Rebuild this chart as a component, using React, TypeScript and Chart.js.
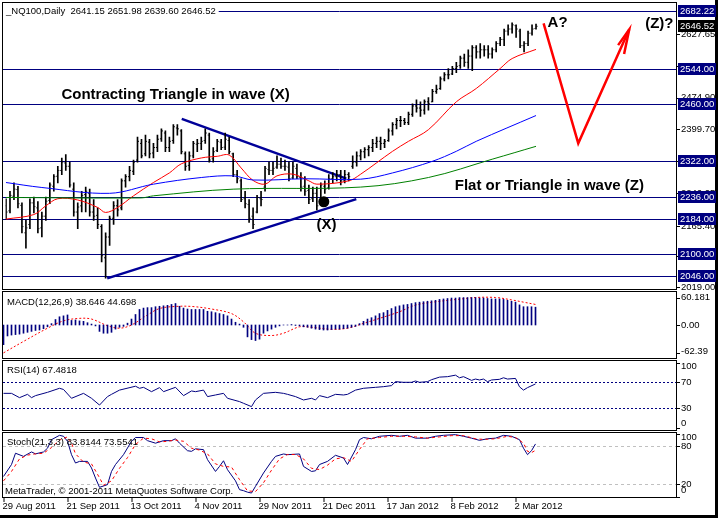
import { useEffect, useRef } from "react";
import { Chart, registerables } from "chart.js";

Chart.register(...registerables);

// ---------------- data ----------------
const opens = [
  2215, 2203, 2238, 2254, 2216, 2150, 2170, 2222, 2210, 2162,
  2190, 2228, 2262, 2286, 2300, 2318, 2310, 2255, 2200, 2215,
  2242, 2245, 2200, 2192, 2165, 2090, 2140, 2185, 2215, 2210,
  2275, 2285, 2298, 2325, 2365, 2340, 2368, 2342, 2355, 2376,
  2390, 2355, 2372, 2402, 2395, 2340, 2312, 2335, 2363, 2365,
  2372, 2385, 2328, 2348, 2368, 2356, 2372, 2340, 2290, 2275,
  2232, 2218, 2190, 2200, 2232, 2260, 2302, 2300, 2308, 2315,
  2310, 2308, 2282, 2305, 2283, 2262, 2252, 2232, 2245, 2225,
  2262, 2258, 2280, 2285, 2290, 2275, 2290, 2310, 2320, 2335,
  2345, 2350, 2355, 2365, 2370, 2365, 2372, 2395, 2410, 2420,
  2420, 2415, 2435, 2455, 2450, 2445, 2465, 2465, 2490, 2497,
  2520, 2530, 2532, 2545, 2552, 2570, 2560, 2575, 2595, 2585,
  2590, 2590, 2580, 2590, 2605, 2615, 2635, 2640, 2648, 2635,
  2600, 2605, 2630, 2641.15,
];
const highs = [
  2232, 2250, 2270, 2262, 2222, 2180, 2232, 2236, 2225, 2200,
  2236, 2270, 2290, 2310, 2330, 2338, 2320, 2270, 2222, 2250,
  2260, 2255, 2230, 2210, 2170, 2150, 2190, 2225, 2230, 2280,
  2290, 2310, 2325, 2380, 2375, 2385, 2375, 2365, 2385, 2400,
  2395, 2380, 2410, 2410, 2398, 2345, 2345, 2370, 2375, 2380,
  2400, 2390, 2355, 2375, 2375, 2390, 2380, 2342, 2300, 2280,
  2250, 2230, 2210, 2240, 2250, 2310, 2320, 2320, 2335, 2330,
  2325, 2320, 2320, 2315, 2295, 2285, 2265, 2260, 2260, 2270,
  2275, 2290, 2295, 2300, 2300, 2300, 2295, 2335, 2345, 2350,
  2355, 2360, 2375, 2380, 2380, 2375, 2400, 2415, 2425, 2430,
  2425, 2440, 2460, 2470, 2465, 2470, 2475, 2495, 2505, 2525,
  2535, 2545, 2550, 2560, 2575, 2580, 2590, 2600, 2600, 2605,
  2600, 2600, 2595, 2610, 2620, 2640, 2650, 2655, 2650, 2640,
  2610, 2635, 2650, 2651.98,
];
const lows = [
  2182, 2198, 2230, 2210, 2150, 2113, 2160, 2198, 2150, 2140,
  2180, 2220, 2250, 2270, 2290, 2300, 2260, 2190, 2160, 2200,
  2200, 2190, 2180, 2160, 2080, 2041, 2120, 2170, 2190, 2205,
  2260, 2275, 2290, 2320, 2330, 2335, 2330, 2330, 2345, 2370,
  2345, 2345, 2365, 2385, 2340, 2300, 2300, 2330, 2345, 2350,
  2365, 2320, 2320, 2345, 2350, 2350, 2340, 2285, 2270, 2225,
  2210, 2175, 2160, 2198, 2215, 2250, 2290, 2290, 2305, 2305,
  2300, 2275, 2280, 2280, 2250, 2240, 2220, 2225, 2205, 2220,
  2245, 2255, 2270, 2275, 2265, 2270, 2275, 2305, 2310, 2325,
  2330, 2335, 2345, 2355, 2350, 2355, 2370, 2385, 2400, 2405,
  2410, 2410, 2430, 2440, 2430, 2435, 2445, 2465, 2485, 2495,
  2515, 2520, 2530, 2535, 2545, 2550, 2545, 2540, 2570, 2570,
  2575, 2570, 2570, 2585, 2600, 2600, 2625, 2630, 2620, 2595,
  2585, 2600, 2625, 2639.6,
];
const closes = [
  2200, 2240, 2255, 2220, 2165, 2162, 2222, 2213, 2160, 2190,
  2226, 2265, 2285, 2300, 2320, 2310, 2265, 2200, 2212, 2240,
  2250, 2200, 2190, 2170, 2095, 2140, 2185, 2215, 2205, 2275,
  2285, 2300, 2320, 2370, 2335, 2370, 2340, 2355, 2375, 2395,
  2355, 2370, 2405, 2400, 2345, 2310, 2335, 2365, 2365, 2370,
  2390, 2325, 2345, 2370, 2355, 2375, 2345, 2290, 2280, 2230,
  2220, 2185, 2170, 2235, 2230, 2305, 2300, 2305, 2315, 2310,
  2310, 2280, 2310, 2285, 2260, 2250, 2230, 2245, 2215, 2265,
  2255, 2280, 2285, 2290, 2275, 2290, 2285, 2320, 2335, 2345,
  2350, 2355, 2365, 2370, 2365, 2370, 2395, 2410, 2420, 2420,
  2415, 2435, 2455, 2450, 2445, 2465, 2460, 2490, 2495, 2520,
  2530, 2530, 2545, 2550, 2570, 2560, 2575, 2595, 2585, 2590,
  2590, 2580, 2590, 2605, 2615, 2635, 2640, 2650, 2640, 2600,
  2605, 2630, 2640, 2646.52,
];

const dateLabels = [
  "29 Aug 2011", "21 Sep 2011", "13 Oct 2011", "4 Nov 2011", "29 Nov 2011",
  "21 Dec 2011", "17 Jan 2012", "8 Feb 2012", "2 Mar 2012",
];
const dateLabelBars = [0, 16, 32, 48, 64, 80, 96, 112, 128];

const levelLines = [2682.22, 2544, 2460, 2322, 2236, 2184, 2100, 2046];
const priceAxisLabels = [2627.65, 2550.45, 2474.9, 2399.7, 2323.2, 2246.05, 2165.4, 2093.2, 2019.0];
const lastPrice = 2646.52;
const titleText = "_NQ100,Daily  2641.15 2651.98 2639.60 2646.52";

const maRedBars = [0, 7, 10, 13, 18, 23, 25, 28, 32, 37, 41, 44, 49, 53, 56, 59, 62, 65, 68, 72, 76, 78, 86, 89, 97, 101, 106, 113, 118, 124, 127, 133];
const maRedValues = [2183, 2194, 2215, 2232, 2229, 2211, 2199, 2211, 2239, 2271, 2294, 2316, 2330, 2334, 2337, 2306, 2276, 2267, 2287, 2291, 2275, 2267, 2275, 2291, 2346, 2370, 2398, 2465, 2497, 2545, 2569, 2591];
const maBlueBars = [0, 9, 26, 37, 49, 57, 62, 75, 89, 97, 107, 113, 118, 133];
const maBlueValues = [2271, 2259, 2245, 2267, 2283, 2287, 2277, 2280, 2279, 2294, 2322, 2346, 2370, 2432];
const maGreenBars = [0, 34, 37, 57, 89, 106, 122, 133];
const maGreenValues = [2235, 2234, 2239, 2255, 2260, 2283, 2327, 2358];

const triUpperBars = [44.1, 85.4];
const triUpperPrices = [2424.1, 2280.2];
const triLowerBars = [25.4, 87.9];
const triLowerPrices = [2040.5, 2231.1];
const arrowBars = [134.9, 143.6, 156.4];
const arrowPrices = [2653.6, 2365.3, 2639.3];
const arrowHeadBars = [153.6, 156.4, 155.1];
const arrowHeadPrices = [2601.2, 2639.3, 2579.7];
const waveDotBar = 79.75;
const waveDotPrice = 2224.7;
const waveTexts = ["Contracting Triangle in wave (X)", "Flat or Triangle in wave (Z)", "A?", "(Z)?", "(X)"];
const waveTextBars = [13.9, 112.6, 135.9, 160.4, 77.9];
const waveTextPrices = [2472.5, 2253.3, 2644.1, 2641.7, 2160.3];

const macdHist = [
  -43, -24, -22, -21, -20, -18, -16, -14, -12, -11,
  -8, -4, 3, 12, 18, 20, 22, 10, 11, 9,
  8, 5, 2, -2, -14, -18, -18, -16, -9, -5,
  -3, 4, 13, 23, 34, 37, 38, 38, 40, 41,
  42, 43, 45, 47, 41, 37, 35, 34, 34, 34,
  34, 30, 29, 27, 25, 23, 20, 13, 6, 2,
  -5, -26, -32, -34, -31, -18, -13, -9, -5, -2,
  0, 0, 1, -1, -2, -4, -5, -7, -9, -10,
  -11, -11, -10, -9, -9, -8, -7, -5, -3, 3,
  8, 13, 16, 20, 25, 27, 32, 36, 40, 42,
  44, 45, 47, 49, 50, 51, 52, 53, 54, 56,
  57, 58, 59, 59, 60, 60, 60, 60, 60, 59,
  59, 58, 57, 57, 57, 56, 54, 52, 50, 44,
  40, 40, 40, 39,
];
const macdSignalBars = [0, 5, 11, 15, 19, 22, 26, 29, 32, 36, 39, 43, 47, 52, 57, 60, 63, 67, 70, 74, 77, 82, 86, 90, 94, 99, 103, 108, 114, 118, 123, 127, 130, 133];
const macdSignalValues = [-61, -36, -7, 9, 14.5, 13, -1.5, -7, 0, 22, 36, 40.6, 40.6, 35, 25, 7, -18, -23, -18, -4, -5, -9.4, -7, 3.6, 14.5, 29, 43.5, 50.8, 56.6, 60.2, 60.2, 55, 50, 45];

const rsiBars = [0, 2, 4, 6, 7, 8, 11, 14, 15, 17, 20, 22, 24, 26, 27, 29, 33, 34, 35, 37, 39, 40, 43, 45, 47, 48, 50, 51, 53, 55, 56, 59, 60, 62, 63, 65, 68, 70, 71, 73, 75, 77, 78, 79, 81, 83, 85, 86, 88, 90, 93, 95, 97, 98, 100, 102, 103, 104, 106, 107, 109, 111, 113, 114, 115, 117, 118, 119, 120, 121, 122, 124, 125, 126, 128, 129, 130, 131, 133];
const rsiValues = [53, 53, 46.4, 51.5, 46.4, 49.5, 54.6, 60.8, 59, 45.4, 53, 45.4, 35, 48, 51.5, 58, 64, 60.8, 62.3, 55.6, 61.8, 55.6, 62.3, 49.5, 56.7, 55.6, 58, 48, 50.5, 53, 45.4, 40.3, 37.7, 32.6, 42.8, 53, 54.6, 53, 51.5, 48, 42.8, 45.4, 42.8, 49.5, 46.4, 51.5, 50.5, 51.5, 58, 60.8, 62.3, 63.3, 64.9, 71, 70, 70, 72, 70, 71, 74, 78, 78.7, 81, 77, 78.7, 73, 75, 73.6, 75, 71, 73.6, 74.6, 77, 75, 76, 63, 58, 61.8, 67.5];

const stochBars = [0, 2, 3, 5, 7, 8, 10, 11, 12, 14, 15, 16, 17, 18, 19, 21, 22, 23, 24, 26, 27, 28, 30, 32, 33, 35, 36, 38, 40, 42, 43, 44, 46, 47, 48, 50, 51, 53, 54, 55, 56, 58, 59, 60, 61, 62, 63, 65, 67, 68, 70, 71, 74, 75, 77, 78, 79, 81, 83, 85, 86, 88, 89, 90, 92, 94, 97, 99, 101, 103, 106, 108, 110, 113, 115, 117, 119, 121, 123, 125, 127, 129, 130, 131, 132, 133];
const stochMain = [32, 51, 69, 64, 71, 68, 71, 77, 90.6, 97.5, 96, 88, 66.7, 53.4, 56, 56, 45.5, 29.5, 14.7, 19, 40, 51, 66.7, 88, 94, 94, 89, 85, 89, 89, 92, 85, 73, 72, 76, 74.7, 58.8, 40, 48, 57, 42.8, 25, 11, 9.4, 7, 5.6, 16.3, 37.5, 56, 64, 67.8, 66.7, 67.8, 48, 40, 41, 51, 56, 65.7, 61.4, 51, 74.7, 90.6, 94, 92, 96, 97.5, 96, 97.5, 93, 93, 96, 97.5, 98.6, 96, 93, 89.5, 92, 93, 97.5, 96, 90.6, 77, 66.7, 73, 83.8];
const stochSignalBars = [0, 2, 4, 6, 8, 10, 12, 14, 16, 17, 18, 20, 22, 24, 25, 27, 29, 31, 33, 35, 37, 39, 41, 43, 45, 47, 49, 51, 53, 55, 57, 59, 61, 63, 65, 67, 69, 71, 73, 75, 77, 79, 81, 83, 85, 87, 89, 91, 94, 97, 100, 103, 106, 109, 112, 115, 118, 120, 123, 126, 128, 130, 131, 132, 133];
const stochSignal = [25, 40, 60, 66, 68, 69, 78, 90, 95, 85, 68, 55, 52, 30, 18, 25, 45, 62, 83, 93, 92, 87, 88, 90, 88, 77, 74, 68, 52, 48, 47, 27, 9, 8, 22, 42, 60, 67, 67, 60, 45, 43, 50, 60, 62, 56, 75, 92, 94, 96, 96, 95, 93, 95, 97, 97, 92, 91, 92, 96, 94, 85, 72, 70, 73.6];

// ---------------- layout / style ----------------
const CW = 718;
const CH = 518;
const AREA_LEFT = 3;
const AREA_RIGHT = 676;
const X_MIN = -0.125;
const X_MAX = 168.125;
const FONT = '"Liberation Sans", Arial, sans-serif';
const SMALL = `9.5px ${FONT}`;
const NAVY = "#000080";

const PANEL_MAIN = { top: 3, bottom: 289, min: 2014.98, max: 2696.52 };
const PANEL_MACD = { top: 292, bottom: 358, min: -72.24, max: 72.22 };
const PANEL_RSI = { top: 361, bottom: 430, min: -3.4, max: 102.8 };
const PANEL_STOCH = { top: 433, bottom: 497, min: -0.7, max: 101.2 };

const pts = (xs: number[], ys: number[]) => xs.map((x, i) => ({ x, y: ys[i] }));

function baseOptions(p: any) {
  return {
    responsive: false,
    maintainAspectRatio: false,
    animation: false,
    devicePixelRatio: 1,
    events: [],
    layout: { padding: { left: AREA_LEFT, right: CW - AREA_RIGHT, top: p.top, bottom: CH - p.bottom } },
    scales: {
      x: { type: "linear", display: false, min: X_MIN, max: X_MAX, offset: false, grid: { display: false } },
      y: { type: "linear", display: false, min: p.min, max: p.max, grid: { display: false } },
    },
    plugins: { legend: { display: false }, tooltip: { enabled: false } },
  };
}

function frame(ctx: CanvasRenderingContext2D, p: any) {
  ctx.save();
  ctx.strokeStyle = "#000";
  ctx.lineWidth = 1;
  ctx.strokeRect(2.5, p.top - 0.5, AREA_RIGHT - 2, p.bottom - p.top + 1);
  ctx.restore();
}

function axisText(ctx: CanvasRenderingContext2D, text: string, py: number, p: any) {
  const y = Math.min(Math.max(py, p.top + 5), p.bottom - 7);
  ctx.save();
  ctx.strokeStyle = "#000";
  ctx.beginPath();
  ctx.moveTo(AREA_RIGHT + 1, Math.round(py) + 0.5);
  ctx.lineTo(AREA_RIGHT + 4, Math.round(py) + 0.5);
  ctx.stroke();
  ctx.fillStyle = "#000";
  ctx.font = SMALL;
  ctx.textBaseline = "middle";
  ctx.fillText(text, AREA_RIGHT + 5, y);
  ctx.restore();
}

function hLine(ctx: CanvasRenderingContext2D, py: number, color: string, dash: number[]) {
  const y = Math.round(py) + 0.5;
  ctx.save();
  ctx.strokeStyle = color;
  ctx.lineWidth = 1;
  ctx.setLineDash(dash);
  ctx.beginPath();
  ctx.moveTo(AREA_LEFT, y);
  ctx.lineTo(AREA_RIGHT, y);
  ctx.stroke();
  ctx.restore();
}

function panelLabel(ctx: CanvasRenderingContext2D, text: string, x: number, y: number) {
  ctx.save();
  ctx.fillStyle = "#000";
  ctx.font = SMALL;
  ctx.textBaseline = "middle";
  ctx.fillText(text, x, y);
  ctx.restore();
}

const mainDecor = {
  id: "mainDecor",
  beforeDatasetsDraw(chart: any) {
    const { ctx, scales } = chart;
    levelLines.forEach((v) => hLine(ctx, scales.y.getPixelForValue(v), NAVY, []));
  },
  afterDraw(chart: any) {
    const { ctx, scales } = chart;
    const y = scales.y;
    const x = scales.x;
    frame(ctx, PANEL_MAIN);
    priceAxisLabels.forEach((v) => axisText(ctx, v.toFixed(2), y.getPixelForValue(v), { top: -100, bottom: 1000 }));
    ctx.save();
    ctx.font = SMALL;
    ctx.textBaseline = "middle";
    levelLines.forEach((v) => {
      const py = Math.round(y.getPixelForValue(v));
      ctx.fillStyle = NAVY;
      ctx.fillRect(AREA_RIGHT + 2, py - 6, 38, 12);
      ctx.fillStyle = "#fff";
      ctx.fillText(v.toFixed(2), AREA_RIGHT + 4, py + 0.5);
    });
    const lp = Math.round(y.getPixelForValue(lastPrice));
    ctx.fillStyle = "#000";
    ctx.fillRect(AREA_RIGHT + 2, lp - 6, 38, 12);
    ctx.fillStyle = "#fff";
    ctx.fillText(lastPrice.toFixed(2), AREA_RIGHT + 4, lp + 0.5);
    // title
    const tw = ctx.measureText(titleText).width;
    ctx.fillStyle = "#fff";
    ctx.fillRect(AREA_LEFT, 4, tw + 6, 12);
    ctx.fillStyle = "#000";
    ctx.fillText(titleText, 6, 11);
    // wave annotations
    ctx.font = `bold 15px ${FONT}`;
    ctx.textBaseline = "alphabetic";
    waveTexts.forEach((t, i) => {
      ctx.fillText(t, x.getPixelForValue(waveTextBars[i]), y.getPixelForValue(waveTextPrices[i]));
    });
    ctx.restore();
  },
};

const macdDecor = {
  id: "macdDecor",
  afterDraw(chart: any) {
    const { ctx, scales } = chart;
    frame(ctx, PANEL_MACD);
    [60.181, 0, -62.39].forEach((v) => axisText(ctx, v === 0 ? "0.00" : String(v), scales.y.getPixelForValue(v), PANEL_MACD));
    panelLabel(ctx, "MACD(12,26,9) 38.646 44.698", 7, 302);
  },
};

const rsiDecor = {
  id: "rsiDecor",
  beforeDatasetsDraw(chart: any) {
    const { ctx, scales } = chart;
    [70, 30].forEach((v) => hLine(ctx, scales.y.getPixelForValue(v), NAVY, [2, 2]));
  },
  afterDraw(chart: any) {
    const { ctx, scales } = chart;
    frame(ctx, PANEL_RSI);
    [100, 70, 30, 0].forEach((v) => axisText(ctx, String(v), scales.y.getPixelForValue(v), PANEL_RSI));
    panelLabel(ctx, "RSI(14) 67.4818", 7, 370);
  },
};

const stochDecor = {
  id: "stochDecor",
  beforeDatasetsDraw(chart: any) {
    const { ctx, scales } = chart;
    [80, 20].forEach((v) => hLine(ctx, scales.y.getPixelForValue(v), "#C0C0C0", [3, 3]));
  },
  afterDraw(chart: any) {
    const { ctx, scales } = chart;
    frame(ctx, PANEL_STOCH);
    [100, 80, 20, 0].forEach((v) => axisText(ctx, String(v), scales.y.getPixelForValue(v), { top: PANEL_STOCH.top - 1, bottom: PANEL_STOCH.bottom }));
    panelLabel(ctx, "Stoch(21,3,3) 83.8144 73.5541", 7, 442);
    panelLabel(ctx, "MetaTrader, \u00a9 2001-2011 MetaQuotes Software Corp.", 5, 491);
    ctx.save();
    ctx.font = SMALL;
    ctx.textBaseline = "middle";
    ctx.fillStyle = "#000";
    ctx.strokeStyle = "#000";
    dateLabelBars.forEach((b, i) => {
      const px = Math.round(scales.x.getPixelForValue(b)) - 0.5;
      ctx.beginPath();
      ctx.moveTo(px + 0.5, PANEL_STOCH.bottom);
      ctx.lineTo(px + 0.5, PANEL_STOCH.bottom + 5);
      ctx.stroke();
      ctx.fillText(dateLabels[i], px - 1, 506);
    });
    ctx.restore();
  },
};

function mainConfig(): any {
  const idx = closes.map((_, i) => i);
  return {
    type: "bar",
    data: {
      datasets: [
        { type: "line", data: pts(maGreenBars, maGreenValues), borderColor: "#008000", borderWidth: 1, pointRadius: 0, tension: 0.35 },
        { type: "line", data: pts(maBlueBars, maBlueValues), borderColor: "#0000FF", borderWidth: 1, pointRadius: 0, tension: 0.35 },
        { type: "line", data: pts(maRedBars, maRedValues), borderColor: "#FF0000", borderWidth: 1, pointRadius: 0, tension: 0.35 },
        {
          type: "bar",
          data: idx.map((i) => ({ x: i, y: [lows[i], highs[i]] })),
          backgroundColor: "#000",
          borderWidth: 0,
          barThickness: 1,
          grouped: false,
        },
        {
          type: "scatter",
          data: idx.map((i) => ({ x: i - 0.25, y: opens[i] })),
          pointStyle: "line",
          pointRadius: 0.5,
          borderColor: "#000",
          borderWidth: 1,
        },
        {
          type: "scatter",
          data: idx.map((i) => ({ x: i + 0.25, y: closes[i] })),
          pointStyle: "line",
          pointRadius: 0.5,
          borderColor: "#000",
          borderWidth: 1,
        },
        { type: "line", data: pts(triUpperBars, triUpperPrices), borderColor: "#000099", borderWidth: 2.5, pointRadius: 0 },
        { type: "line", data: pts(triLowerBars, triLowerPrices), borderColor: "#000099", borderWidth: 2.5, pointRadius: 0 },
        { type: "line", data: pts(arrowBars, arrowPrices), borderColor: "#FF0000", borderWidth: 2.5, pointRadius: 0 },
        { type: "line", data: pts(arrowHeadBars, arrowHeadPrices), borderColor: "#FF0000", borderWidth: 2.5, pointRadius: 0 },
        {
          type: "scatter",
          data: [{ x: waveDotBar, y: waveDotPrice }],
          pointRadius: 5.5,
          backgroundColor: "#000",
          borderColor: "#000",
          borderWidth: 0,
        },
      ],
    },
    options: baseOptions(PANEL_MAIN),
    plugins: [mainDecor],
  };
}

function macdConfig(): any {
  return {
    type: "bar",
    data: {
      datasets: [
        {
          type: "bar",
          data: macdHist.map((v, i) => ({ x: i, y: v })),
          backgroundColor: NAVY,
          borderWidth: 0,
          barThickness: 1,
          grouped: false,
        },
        {
          type: "line",
          data: pts(macdSignalBars, macdSignalValues),
          borderColor: "#FF0000",
          borderWidth: 1,
          borderDash: [2, 2],
          pointRadius: 0,
          tension: 0.35,
        },
      ],
    },
    options: baseOptions(PANEL_MACD),
    plugins: [macdDecor],
  };
}

function rsiConfig(): any {
  return {
    type: "line",
    data: {
      datasets: [
        { data: pts(rsiBars, rsiValues), borderColor: NAVY, borderWidth: 1, pointRadius: 0, tension: 0 },
      ],
    },
    options: baseOptions(PANEL_RSI),
    plugins: [rsiDecor],
  };
}

function stochConfig(): any {
  return {
    type: "line",
    data: {
      datasets: [
        { data: pts(stochSignalBars, stochSignal), borderColor: "#FF0000", borderWidth: 1, borderDash: [3, 3], pointRadius: 0, tension: 0 },
        { data: pts(stochBars, stochMain), borderColor: NAVY, borderWidth: 1, pointRadius: 0, tension: 0 },
      ],
    },
    options: baseOptions(PANEL_STOCH),
    plugins: [stochDecor],
  };
}

export default function App() {
  const r1 = useRef<HTMLCanvasElement>(null);
  const r2 = useRef<HTMLCanvasElement>(null);
  const r3 = useRef<HTMLCanvasElement>(null);
  const r4 = useRef<HTMLCanvasElement>(null);

  useEffect(() => {
    const charts: Chart[] = [];
    const cfgs = [mainConfig(), macdConfig(), rsiConfig(), stochConfig()];
    [r1, r2, r3, r4].forEach((r, i) => {
      if (r.current) charts.push(new Chart(r.current, cfgs[i]));
    });
    return () => charts.forEach((c) => c.destroy());
  }, []);

  const cs: any = { position: "absolute", left: 0, top: 0, width: CW, height: CH };
  return (
    <div style={{ position: "fixed", left: 0, top: 0, width: CW, height: CH, background: "#000" }}>
      <div style={{ position: "absolute", left: 0, top: 0, width: 715, height: 515, background: "#fff" }} />
      <canvas ref={r1} width={CW} height={CH} style={cs} />
      <canvas ref={r2} width={CW} height={CH} style={cs} />
      <canvas ref={r3} width={CW} height={CH} style={cs} />
      <canvas ref={r4} width={CW} height={CH} style={cs} />
    </div>
  );
}
